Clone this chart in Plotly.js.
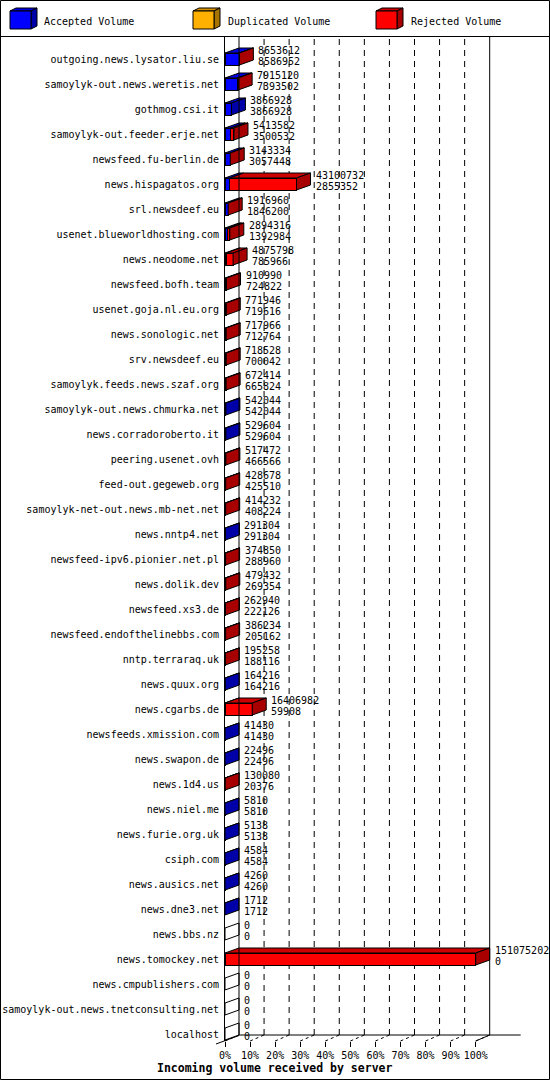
<!DOCTYPE html>
<html><head><meta charset="utf-8">
<script src="https://cdn.plot.ly/plotly-3.0.1.min.js"></script>
<style>html,body{margin:0;padding:0;background:#fff;overflow:hidden}#chart{width:550px;height:1080px}</style>
</head><body><div id="chart"></div>
<script>
// ---------------- data ----------------
const hosts = [
  "outgoing.news.lysator.liu.se","samoylyk-out.news.weretis.net","gothmog.csi.it",
  "samoylyk-out.feeder.erje.net","newsfeed.fu-berlin.de","news.hispagatos.org",
  "srl.newsdeef.eu","usenet.blueworldhosting.com","news.neodome.net","newsfeed.bofh.team",
  "usenet.goja.nl.eu.org","news.sonologic.net","srv.newsdeef.eu","samoylyk.feeds.news.szaf.org",
  "samoylyk-out.news.chmurka.net","news.corradoroberto.it","peering.usenet.ovh",
  "feed-out.gegeweb.org","samoylyk-net-out.news.mb-net.net","news.nntp4.net",
  "newsfeed-ipv6.pionier.net.pl","news.dolik.dev","newsfeed.xs3.de",
  "newsfeed.endofthelinebbs.com","nntp.terraraq.uk","news.quux.org","news.cgarbs.de",
  "newsfeeds.xmission.com","news.swapon.de","news.1d4.us","news.niel.me","news.furie.org.uk",
  "csiph.com","news.ausics.net","news.dne3.net","news.bbs.nz","news.tomockey.net",
  "news.cmpublishers.com","samoylyk-out.news.tnetconsulting.net","localhost"
];
const totalVolume = [
  8653612,7915120,3866928,5413582,3143334,43100732,1916960,2894316,4875798,910990,
  771946,717966,718528,672414,542044,529604,517472,428678,414232,291304,
  374850,479432,262940,386234,195258,164216,16406982,41430,22496,130080,
  5810,5138,4584,4260,1712,0,151075202,0,0,0
];
const acceptedVolume = [
  8586952,7393502,3866928,3500532,3057448,2855352,1846200,1392984,785966,724822,
  719616,712764,700042,665824,542044,529604,466566,425510,408224,291304,
  288960,269354,222126,205162,188116,164216,59908,41430,22496,20376,
  5810,5138,4584,4260,1712,0,0,0,0,0
];
const duplicatedVolume = [
  0,0,0,0,0,0,0,0,0,0, 0,0,0,0,0,0,0,0,0,0,
  0,0,0,0,0,0,0,0,0,0, 0,0,0,0,0,0,0,0,0,0
];
const seriesNames = ["Accepted Volume","Duplicated Volume","Rejected Volume"];
const tickPercents = [0,10,20,30,40,50,60,70,80,90,100];
const axisTitle = "Incoming volume received by server";

// ---------------- style / layout constants ----------------
const FONT = "DejaVu Sans Mono";
const W = 550, HGT = 1080;
const L = 225, T = 37, B = 1041;          // plot area edges in px
const plotW = W - L, plotH = B - T;
const pxPerPct = 2.507;
const xMax = plotW / pxPerPct;
const rowPx = 25, firstRowPx = 59;
const n = hosts.length;
const yTopVal = -(firstRowPx - T) / rowPx;
const yBotVal = (n - 1) + (B - (firstRowPx + rowPx * (n - 1))) / rowPx;
const DX = 14 / pxPerPct;     // depth offset in x units
const DY = 5 / rowPx;         // depth offset in row units
const HALF = 6 / rowPx;       // half bar thickness
const floorPx = 1035;

const frontCol = ["#0000ff", "#ffb000", "#ff0000"];
const topCol   = ["#0000dd", "#d89400", "#cc0000"];
const sideCol  = ["#0000a8", "#a87400", "#a80000"];

const pX = p => (p - L) / plotW;        // pixel -> paper
const pY = p => (B - p) / plotH;

// ---------------- derived values ----------------
const maxTotal = Math.max(...totalVolume);
const rejectedVolume = totalVolume.map((t, i) => t - acceptedVolume[i] - duplicatedVolume[i]);
const series = [acceptedVolume, duplicatedVolume, rejectedVolume];
const pct = series.map(s => s.map(v => v / maxTotal * 100));
const idx = hosts.map((h, i) => i);

const traces = [];
// front faces (stacked bars)
for (let s = 0; s < 3; s++) {
  traces.push({
    type: "bar", orientation: "h", name: seriesNames[s],
    x: pct[s], y: idx, width: 2 * HALF,
    marker: {color: frontCol[s], line: {color: "#000", width: 1}},
    hoverinfo: "skip", showlegend: false
  });
}
// top faces
for (let s = 0; s < 3; s++) {
  const xs = [], ys = [];
  for (let i = 0; i < n; i++) {
    let x0 = 0; for (let k = 0; k < s; k++) x0 += pct[k][i];
    const x1 = x0 + pct[s][i];
    if (pct[s][i] <= 0) continue;
    const yf = i - HALF, yb = yf - DY;
    xs.push(x0, x1, x1 + DX, x0 + DX, x0, null);
    ys.push(yf, yf, yb, yb, yf, null);
  }
  if (xs.length) traces.push({type: "scatter", mode: "lines", x: xs, y: ys, fill: "toself",
    fillcolor: topCol[s], line: {color: "#000", width: 1}, hoverinfo: "skip", showlegend: false});
}
// side faces, coloured by the last non-empty segment
const sideGroups = {0: [[], []], 1: [[], []], 2: [[], []], none: [[], []]};
for (let i = 0; i < n; i++) {
  let last = "none"; let tot = 0;
  for (let s = 0; s < 3; s++) { if (pct[s][i] > 0) last = s; tot += pct[s][i]; }
  const g = sideGroups[last];
  g[0].push(tot, tot + DX, tot + DX, tot, tot, null);
  g[1].push(i - HALF, i - HALF - DY, i + HALF - DY, i + HALF, i - HALF, null);
}
Object.keys(sideGroups).forEach(k => {
  const g = sideGroups[k];
  if (!g[0].length) return;
  traces.push({type: "scatter", mode: "lines", x: g[0], y: g[1], fill: "toself",
    fillcolor: k === "none" ? "#ffffff" : sideCol[+k], line: {color: "#000", width: 1},
    hoverinfo: "skip", showlegend: false});
});

// ---------------- annotations ----------------
const ann = [];
const numFont = {family: FONT, size: 10, color: "#000"};
for (let i = 0; i < n; i++) {
  let tot = 0; for (let s = 0; s < 3; s++) tot += pct[s][i];
  ann.push({x: tot + DX, y: i, xref: "x", yref: "y", text: String(totalVolume[i]), showarrow: false,
    xanchor: "left", yanchor: "middle", xshift: 3, yshift: 8.5, font: numFont});
  ann.push({x: tot + DX, y: i, xref: "x", yref: "y", text: String(acceptedVolume[i]), showarrow: false,
    xanchor: "left", yanchor: "middle", xshift: 3, yshift: -2.5, font: numFont});
}
ann.push({xref: "paper", yref: "paper", x: pX(274), y: pY(1068), text: axisTitle, showarrow: false,
  xanchor: "center", yanchor: "middle", font: {family: FONT, size: 11.5, color: "#000", weight: "bold"}});

// ---------------- shapes ----------------
const shapes = [];
const floorY = pY(floorPx);
tickPercents.forEach(p => {
  if (p > 0 && p < 100) shapes.push({type: "line", xref: "x", yref: "paper", x0: p + DX, x1: p + DX,
    y0: floorY, y1: 1, line: {color: "#000", width: 1, dash: "6px,5px"}, layer: "below"});
  shapes.push({type: "line", xref: "x", yref: "paper", x0: p, x1: p + DX, y0: 0, y1: floorY,
    line: {color: "#000", width: 1, dash: "3px,3px"}, layer: "below"});
});
// back walls and floor
shapes.push({type: "line", xref: "x", yref: "paper", x0: DX, x1: DX, y0: floorY, y1: 1, line: {color: "#000", width: 1}});
shapes.push({type: "line", xref: "x", yref: "paper", x0: 100 + DX, x1: 100 + DX, y0: floorY, y1: 1, line: {color: "#000", width: 1}});
shapes.push({type: "line", xref: "x", yref: "paper", x0: DX, x1: 100 + DX + 31 / pxPerPct, y0: floorY, y1: floorY, line: {color: "#000", width: 1}});
shapes.push({type: "line", xref: "x", yref: "paper", x0: 100, x1: 100 + DX, y0: 0, y1: floorY, line: {color: "#000", width: 1}});
shapes.push({type: "line", xref: "paper", yref: "paper", x0: pX(216), x1: pX(239), y0: pY(1044), y1: pY(1035.5), line: {color: "#000", width: 1}});
// outer border and legend separator
shapes.push({type: "rect", xref: "paper", yref: "paper", x0: pX(0.5), x1: pX(549.5), y0: pY(0.5), y1: pY(1079.5), line: {color: "#000", width: 1}});
shapes.push({type: "line", xref: "paper", yref: "paper", x0: pX(0), x1: pX(550), y0: pY(36.5), y1: pY(36.5), line: {color: "#000", width: 1}});
// legend cubes
const legX = [10, 193, 376], legTextX = [42, 226, 409];
for (let s = 0; s < 3; s++) {
  const x0 = legX[s], x1 = x0 + 21, y0 = 11, y1 = 29, dx = 6, dy = 3;
  const P = (x, y) => pX(x) + "," + pY(y);
  shapes.push({type: "path", xref: "paper", yref: "paper", fillcolor: topCol[s], line: {color: "#000", width: 1},
    path: "M" + P(x0, y0) + "L" + P(x1, y0) + "L" + P(x1 + dx, y0 - dy) + "L" + P(x0 + dx, y0 - dy) + "Z"});
  shapes.push({type: "path", xref: "paper", yref: "paper", fillcolor: sideCol[s], line: {color: "#000", width: 1},
    path: "M" + P(x1, y0) + "L" + P(x1 + dx, y0 - dy) + "L" + P(x1 + dx, y1 - dy) + "L" + P(x1, y1) + "Z"});
  shapes.push({type: "rect", xref: "paper", yref: "paper", x0: pX(x0), x1: pX(x1), y0: pY(y0), y1: pY(y1),
    fillcolor: frontCol[s], line: {color: "#000", width: 1}});
  ann.push({xref: "paper", yref: "paper", x: pX(legTextX[s]), y: pY(21), text: seriesNames[s], showarrow: false,
    xanchor: "left", yanchor: "middle", font: {family: FONT, size: 10, color: "#000"}});
}

const layout = {
  width: W, height: HGT,
  margin: {l: L, r: 0, t: T, b: HGT - B, pad: 0},
  paper_bgcolor: "#fff", plot_bgcolor: "rgba(0,0,0,0)",
  barmode: "stack", showlegend: false, hovermode: false,
  xaxis: {range: [0, xMax], tickvals: tickPercents, ticktext: tickPercents.map(p => p + "%"),
    ticks: "outside", ticklen: 5, tickwidth: 1, tickcolor: "#000", showgrid: false, zeroline: false,
    showline: false, tickfont: {family: FONT, size: 10, color: "#000"}, fixedrange: true},
  yaxis: {range: [yBotVal, yTopVal], tickvals: idx, ticktext: hosts, ticks: "", showgrid: false,
    zeroline: false, showline: true, linecolor: "#000", linewidth: 1, ticklabelstandoff: 3,
    tickfont: {family: FONT, size: 10, color: "#000"}, fixedrange: true},
  shapes: shapes, annotations: ann
};
Plotly.newPlot("chart", traces, layout, {staticPlot: true, displayModeBar: false});
</script></body></html>
